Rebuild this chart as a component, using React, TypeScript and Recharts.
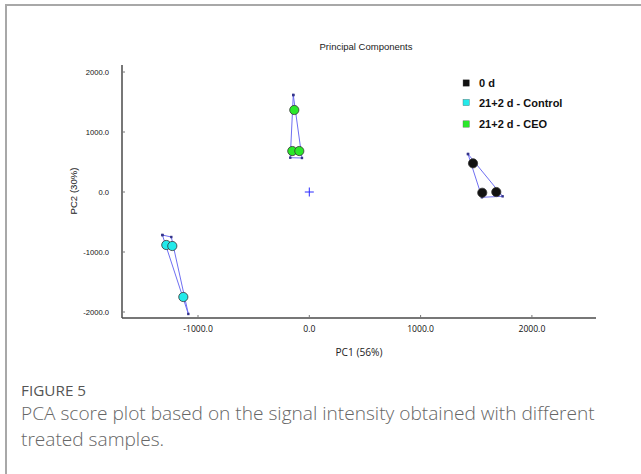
import React from 'react';
import { ScatterChart, Scatter, XAxis, YAxis } from 'recharts';

const groupNames = ['0 d', '21+2 d - Control', '21+2 d - CEO'];
const groupColors = ['#111111', '#22eaea', '#2ae82a'];

const day0Points = [
  { x: 1471, y: 478 },
  { x: 1554, y: -12 },
  { x: 1680, y: 0 },
];
const controlPoints = [
  { x: -1285, y: -883 },
  { x: -1231, y: -900 },
  { x: -1132, y: -1750 },
];
const ceoPoints = [
  { x: -135, y: 1367 },
  { x: -153, y: 683 },
  { x: -90, y: 683 },
];

const day0Hull = [
  { x: 1426, y: 633 },
  { x: 1737, y: -72 },
  { x: 1551, y: -88 },
  { x: 1426, y: 633 },
];
const controlHull = [
  { x: -1320, y: -717 },
  { x: -1240, y: -750 },
  { x: -1087, y: -2033 },
  { x: -1320, y: -717 },
];
const ceoHull = [
  { x: -144, y: 1617 },
  { x: -66, y: 567 },
  { x: -171, y: 572 },
  { x: -144, y: 1617 },
];

const originPoint = [{ x: 0, y: 0 }];

const xTicks = [-1000, 0, 1000, 2000];
const yTicks = [-2000, -1000, 0, 1000, 2000];
const xDomain: [number, number] = [-1683, 2576];
const yDomain: [number, number] = [-2100, 2117];

const AXIS = '#4a4a4a';
const HULL = '#6f6ff2';

const LeftTick = (p: any) => (
  <g>
    <line x1={p.x + 13} x2={p.x + 16} y1={p.y} y2={p.y} stroke="#777" strokeWidth={1} />
    <text x={p.x} y={p.y} textAnchor="end" dominantBaseline="central" fontSize={7.6} fontFamily="'Liberation Sans', Arial, sans-serif" fill="#111">
      {Number(p.payload.value).toFixed(1)}
    </text>
  </g>
);

const BottomTick = (p: any) => (
  <g>
    <line x1={p.x} x2={p.x} y1={p.y - 11} y2={p.y - 14} stroke="#777" strokeWidth={1} />
    <text x={p.x} y={p.y} textAnchor="middle" dominantBaseline="central" fontSize={8.6} fontFamily="'Open Sans', sans-serif" fill="#111">
      {Number(p.payload.value).toFixed(1)}
    </text>
  </g>
);

const RightTick = (p: any) => (
  <line x1={p.x} x2={p.x - 3} y1={p.y} y2={p.y} stroke="#777" strokeWidth={1} />
);

const dotShape = (fill: string) => (p: any) => (
  <circle cx={p.cx} cy={p.cy} r={4.6} fill={fill} stroke="#333" strokeWidth={0.8} />
);

const vertexShape = (p: any) => <rect x={p.cx - 1.2} y={p.cy - 1.2} width={2.4} height={2.4} fill="#33338a" />;

const plusShape = (p: any) => (
  <g stroke="#2a2aff" strokeWidth={1}>
    <line x1={p.cx - 4.5} x2={p.cx + 4.5} y1={p.cy} y2={p.cy} />
    <line x1={p.cx} x2={p.cx} y1={p.cy - 4.5} y2={p.cy + 4.5} />
  </g>
);

const legendY = [83, 102.5, 124];

export default function App() {
  return (
    <div style={{ position: 'absolute', left: 0, top: 0, width: 641, height: 474, background: '#fff', overflow: 'hidden' }}>
      <div style={{ position: 'absolute', left: 5, top: 4, width: 650, height: 480, borderTop: '2px solid #a8a8a8', borderLeft: '2px solid #a8a8a8' }} />
      <div style={{ position: 'absolute', left: 0, top: 0 }}>
        <ScatterChart width={641} height={474} margin={{ top: 65, right: 45, bottom: 126, left: 0 }}>
          <XAxis
            xAxisId={0}
            type="number"
            dataKey="x"
            domain={xDomain}
            ticks={xTicks}
            allowDataOverflow
            height={30}
            tickSize={0}
            tickMargin={11}
            tickLine={false}
            axisLine={{ stroke: AXIS, strokeWidth: 1.5 }}
            tick={BottomTick}
            interval={0}
          />
          <XAxis
            xAxisId="top"
            orientation="top"
            type="number"
            dataKey="x"
            domain={xDomain}
            allowDataOverflow
            height={0}
            tick={false}
            tickLine={false}
            axisLine={{ stroke: AXIS, strokeWidth: 1.5 }}
          />
          <YAxis
            yAxisId={0}
            type="number"
            dataKey="y"
            domain={yDomain}
            ticks={yTicks}
            allowDataOverflow
            width={122}
            tickSize={0}
            tickMargin={13}
            tickLine={false}
            axisLine={{ stroke: AXIS, strokeWidth: 1.5 }}
            tick={LeftTick}
            interval={0}
          />
          <YAxis
            yAxisId="right"
            orientation="right"
            type="number"
            dataKey="y"
            domain={yDomain}
            ticks={yTicks}
            allowDataOverflow
            width={0}
            tickSize={0}
            tickMargin={0}
            tickLine={false}
            axisLine={{ stroke: AXIS, strokeWidth: 1.5 }}
            tick={RightTick}
            interval={0}
          />
          <Scatter data={controlHull} line={{ stroke: HULL, strokeWidth: 1 }} lineType="joint" shape={vertexShape} isAnimationActive={false} />
          <Scatter data={ceoHull} line={{ stroke: HULL, strokeWidth: 1 }} lineType="joint" shape={vertexShape} isAnimationActive={false} />
          <Scatter data={day0Hull} line={{ stroke: HULL, strokeWidth: 1 }} lineType="joint" shape={vertexShape} isAnimationActive={false} />
          <Scatter data={originPoint} shape={plusShape} isAnimationActive={false} />
          <Scatter name={groupNames[0]} data={day0Points} shape={dotShape(groupColors[0])} isAnimationActive={false} />
          <Scatter name={groupNames[1]} data={controlPoints} shape={dotShape(groupColors[1])} isAnimationActive={false} />
          <Scatter name={groupNames[2]} data={ceoPoints} shape={dotShape(groupColors[2])} isAnimationActive={false} />
        </ScatterChart>
      </div>
      <svg width={641} height={474} style={{ position: 'absolute', left: 0, top: 0, pointerEvents: 'none' }}>
        <text x={366} y={46} textAnchor="middle" dominantBaseline="central" fontSize={9.5} fontFamily="'Liberation Sans', Arial, sans-serif" fill="#222">
          Principal Components
        </text>
        <text x={0} y={0} transform="translate(73,191) rotate(-90)" textAnchor="middle" dominantBaseline="central" fontSize={9.6} fontFamily="'Liberation Sans', Arial, sans-serif" fill="#222">
          PC2 (30%)
        </text>
        <text x={359} y={352} textAnchor="middle" dominantBaseline="central" fontSize={10.2} fontFamily="'Open Sans', sans-serif" fill="#222">
          PC1 (56%)
        </text>
        {groupNames.map((n, i) => (
          <g key={n}>
            <rect x={463} y={legendY[i] - 3.2} width={6.4} height={6.4} fill={groupColors[i]} stroke="#666" strokeWidth={0.4} />
            <text x={479} y={legendY[i]} dominantBaseline="central" fontSize={11} fontWeight="bold" fontFamily="'Liberation Sans', Arial, sans-serif" fill="#111">
              {n}
            </text>
          </g>
        ))}
        <text x={21} y={390} dominantBaseline="central" fontSize={15.3} fontWeight={500} fontFamily="'Open Sans', sans-serif" fill="#555">
          FIGURE 5
        </text>
        <text x={21} y={412.5} dominantBaseline="central" fontSize={19.1} fontWeight={300} fontFamily="'Open Sans', sans-serif" fill="#666">
          PCA score plot based on the signal intensity obtained with different
        </text>
        <text x={21} y={438.5} dominantBaseline="central" fontSize={19.1} fontWeight={300} fontFamily="'Open Sans', sans-serif" fill="#666">
          treated samples.
        </text>
      </svg>
    </div>
  );
}
